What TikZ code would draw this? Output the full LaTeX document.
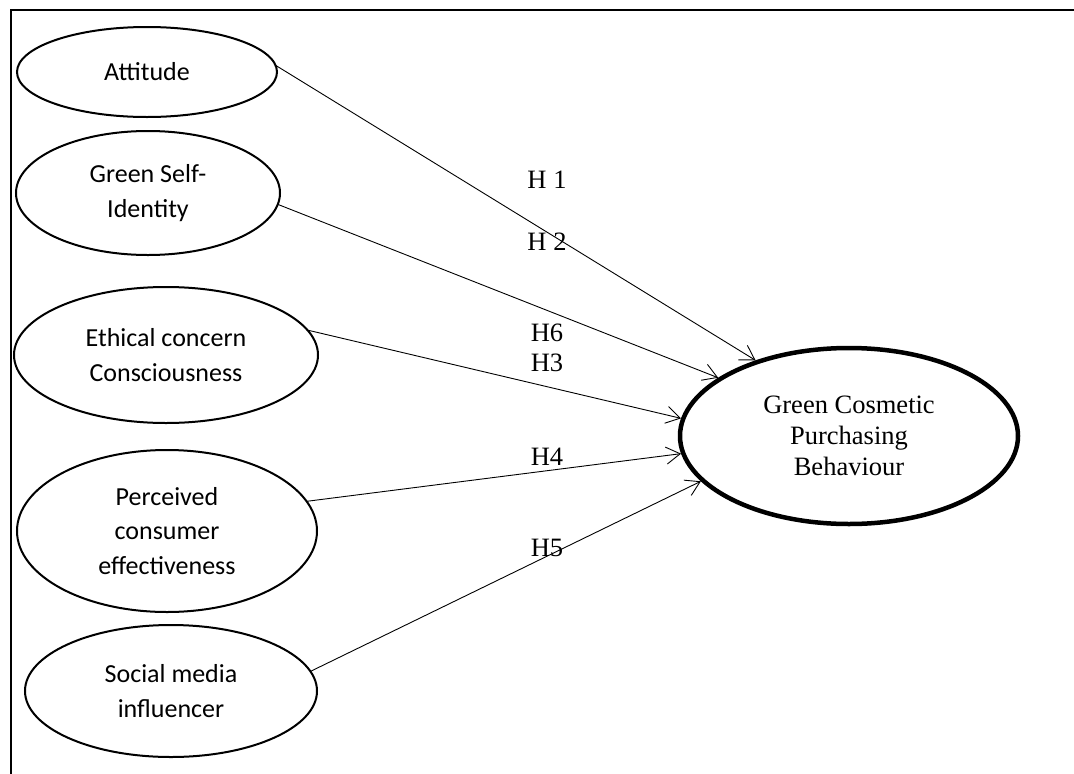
\documentclass[tikz,border=0pt]{standalone}
\usepackage{fontspec}
\setmainfont{Liberation Serif}
\newfontfamily\calfont{Carlito}
\usetikzlibrary{shapes.geometric,arrows.meta}
\tikzset{
  factor/.style={ellipse, draw, line width=2pt, inner sep=0pt, outer sep=0pt,
    align=center, font=\calfont\fontsize{26}{34.5}\selectfont},
  outcome/.style={ellipse, draw, line width=4.5pt, inner sep=0pt,
    align=center, font=\fontsize{26.5}{31}\selectfont},
  hyp/.style={-{Straight Barb[length=14pt,width=17pt]}, line width=0.9pt},
  hlabel/.style={font=\fontsize{26.5}{31}\selectfont, inner sep=0pt},
  frame/.style={line width=2pt}
}
\begin{document}
\begin{tikzpicture}[x=1pt,y=-1pt]
\useasboundingbox (0,0) rectangle (1074,774);
\coordinate (f1) at (1074,10);
\coordinate (f2) at (11,10);
\coordinate (f3) at (11,774);
\draw[frame] (f1) -- (f2) -- (f3);

\node[factor, minimum width=260pt, minimum height=90pt] (att) at (147,72) {Attitude};
\node[factor, minimum width=264pt, minimum height=124pt] (gsi) at (148,193) {Green Self-\\Identity};
\node[factor, minimum width=304pt, minimum height=136pt] (eth) at (166,355) {Ethical concern\\Consciousness};
\node[factor, minimum width=300pt, minimum height=162pt] (pce) at (167,531) {Perceived\\consumer\\effectiveness};
\node[factor, minimum width=292pt, minimum height=132pt] (smi) at (171,691) {Social media\\influencer};

\node[outcome, minimum width=338pt, minimum height=176pt] (gcpb) at (849,436) {Green Cosmetic\\Purchasing\\Behaviour};

\draw[hyp] (att.3) -- (gcpb.141);
\draw[hyp] (gsi.-5) -- (gcpb.156);
\draw[hyp] (eth.10) -- (gcpb.174.5);
\draw[hyp] (pce.12) -- (gcpb.186);
\draw[hyp] (smi.8.6) -- (gcpb.197);

\node[hlabel] (h1) at (547,180) {H 1};
\node[hlabel] (h2) at (547,242) {H 2};
\node[hlabel] (h6) at (547,333) {H6};
\node[hlabel] (h3) at (547,363) {H3};
\node[hlabel] (h4) at (547,457) {H4};
\node[hlabel] (h5) at (547,548) {H5};
\end{tikzpicture}
\end{document}
